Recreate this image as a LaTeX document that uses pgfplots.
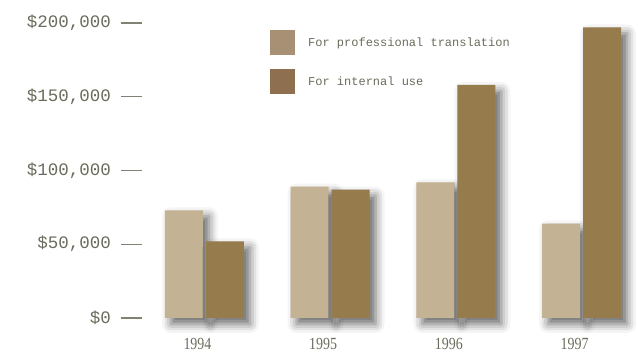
\documentclass[border=0pt]{standalone}
\usepackage{fontspec}
\usepackage{pgfplots}
\pgfplotsset{compat=1.18}
\usetikzlibrary{shadows.blur}
\setmainfont{Liberation Serif}
\newfontfamily\monofont{Liberation Mono}
\newfontfamily\yearfont[FakeStretch=0.82]{Liberation Serif}
\definecolor{txt}{HTML}{6B6B5B}
\definecolor{lightbar}{HTML}{C4B294}
\definecolor{darkbar}{HTML}{967B4C}
\definecolor{lightkey}{HTML}{A89074}
\definecolor{darkkey}{HTML}{8E7050}
\begin{document}
\begin{tikzpicture}
\begin{axis}[
    scale only axis,
    width=496pt, height=295pt,
    xmin=-0.497, xmax=3.449,
    ymin=0, ymax=200000,
    scaled y ticks=false,
    clip=false,
    ybar, bar width=38pt,
    axis line style={draw=none},
    xtick={0,1,2,3},
    xticklabels={1994,1995,1996,1997},
    xtick style={draw=none},
    xticklabel style={font=\yearfont\fontsize{17}{17}\selectfont, text=txt,
        inner sep=0pt, xshift=-7pt, yshift=1pt},
    ytick={0,50000,100000,150000,200000},
    yticklabels={\$0,{\$50,000},{\$100,000},{\$150,000},{\$200,000}},
    ytick pos=left,
    tick align=outside,
    major tick length=21pt,
    ytick style={draw=txt!85, line width=1.3pt},
    yticklabel style={font=\monofont\fontsize{17.5}{17.5}\selectfont, text=txt,
        inner sep=0pt, xshift=-10pt},
    legend style={draw=none, fill=none,
        at={(axis description cs:0.252,0.983)}, anchor=north west,
        font=\monofont\fontsize{12}{12}\selectfont, text=txt,
        row sep=14pt, column sep=0pt,
        nodes={inner sep=0pt}},
    legend cell align=left,
    legend image code/.code={\fill[#1] (0pt,-12.5pt) rectangle (25pt,12.5pt); \path (38pt,0pt);},
]
\addplot[forget plot, bar shift=-20.5pt, fill=lightbar, draw=none,
    blur shadow={shadow xshift=6pt, shadow yshift=-6pt, shadow blur radius=9pt, shadow opacity=60}]
    coordinates {(0,73000) (1,89000) (2,92000) (3,64000)};
\addplot[forget plot, bar shift=20.5pt, fill=darkbar, draw=none,
    blur shadow={shadow xshift=6pt, shadow yshift=-6pt, shadow blur radius=9pt, shadow opacity=60}]
    coordinates {(0,52000) (1,87000) (2,158000) (3,197000)};
\addlegendimage{fill=lightkey, draw=none}
\addlegendentry{For professional translation}
\addlegendimage{fill=darkkey, draw=none}
\addlegendentry{For internal use}
\end{axis}
\pgfresetboundingbox
\useasboundingbox ([xshift=-142pt,yshift=-42pt]current axis.south west) rectangle ([yshift=23pt]current axis.north east);
\end{tikzpicture}
\end{document}
